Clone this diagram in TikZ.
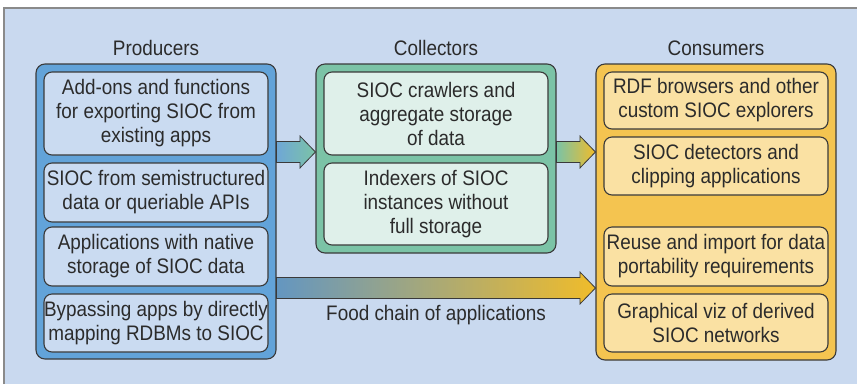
\documentclass[tikz,border=0pt]{standalone}
\usepackage{fontspec}
\setmainfont{Liberation Sans}[FakeStretch=0.9]
\usetikzlibrary{calc}

\definecolor{bgblue}{HTML}{C9D9EF}
\definecolor{framegray}{HTML}{8A8A8A}
\definecolor{linegray}{HTML}{3A3A3A}
\definecolor{textgray}{HTML}{2B2B2B}
\definecolor{prodout}{HTML}{62A3D9}
\definecolor{prodin}{HTML}{CADBF1}
\definecolor{collout}{HTML}{7BC3A6}
\definecolor{collin}{HTML}{DFF0EA}
\definecolor{consout}{HTML}{F4C450}
\definecolor{consin}{HTML}{FAE1A3}
\definecolor{arrowyel}{HTML}{F0BC2A}
\definecolor{arrowblue}{HTML}{6FA7D6}

\tikzset{
  group/.style={draw=linegray, line width=1.1pt, rounded corners=9pt,
    minimum width=240pt, inner sep=0pt},
  item/.style={draw=linegray, line width=1.1pt, rounded corners=8pt,
    minimum width=224pt, inner sep=0pt, align=center, text=textgray},
  title/.style={text=textgray, inner sep=0pt}
}

% block arrow, horizontal: start, tip, colour at start, colour at tip
\newcommand{\blockarrow}[4]{%
  \shadedraw[left color=#3, right color=#4, draw=linegray, line width=0.8pt]
    let \p1=(#1), \p2=(#2) in
    (\x1,\y1+10.5pt) -- (\x2-15.5pt,\y1+10.5pt) -- (\x2-15.5pt,\y1+16pt)
    -- (\x2,\y1) -- (\x2-15.5pt,\y1-16pt) -- (\x2-15.5pt,\y1-10.5pt)
    -- (\x1,\y1-10.5pt) -- cycle;}

\begin{document}
\begin{tikzpicture}[x=1pt, y=-1pt, font=\fontsize{21}{24}\selectfont]
  \useasboundingbox (0,0) rectangle (857,384);

  % Hintergrund
  \fill[bgblue] (4,8) rectangle (857,384);
  \draw[framegray, line width=1.2pt] (4,384) -- (4,8) -- (857,8);

  % Gruppen
  \node[group, fill=prodout, minimum height=295pt] (prod) at (156,211.5) {};
  \node[group, fill=collout, minimum height=189pt] (coll) at (436,158.5) {};
  \node[group, fill=consout, minimum height=296pt] (cons) at (716,212) {};

  \node[title] (prodtitle) at (156,48) {Producers};
  \node[title] (colltitle) at (436,48) {Collectors};
  \node[title] (constitle) at (716,48) {Consumers};

  % Producers
  \node[item, fill=prodin, minimum height=83pt] (addons) at (156,113.5)
    {Add-ons and functions\\for exporting SIOC from\\existing apps};
  \node[item, fill=prodin, minimum height=59pt] (semistruct) at (156,192.5)
    {SIOC from semistructured\\data or queriable APIs};
  \node[item, fill=prodin, minimum height=59pt] (native) at (156,256.5)
    {Applications with native\\storage of SIOC data};
  \node[item, fill=prodin, minimum height=58pt] (bypass) at (156,323)
    {Bypassing apps by directly\\mapping RDBMs to SIOC};

  % Collectors
  \node[item, fill=collin, minimum height=83pt] (crawlers) at (436,113.5)
    {SIOC crawlers and\\aggregate storage\\of data};
  \node[item, fill=collin, minimum height=82pt] (indexers) at (436,204)
    {Indexers of SIOC\\instances without\\full storage};

  % Consumers
  \node[item, fill=consin, minimum height=57pt] (browsers) at (716,100.5)
    {RDF browsers and other\\custom SIOC explorers};
  \node[item, fill=consin, minimum height=58pt] (detectors) at (716,166)
    {SIOC detectors and\\clipping applications};
  \node[item, fill=consin, minimum height=59pt] (reuse) at (716,256.5)
    {Reuse and import for data\\portability requirements};
  \node[item, fill=consin, minimum height=58pt] (graphviz) at (716,323)
    {Graphical viz of derived\\SIOC networks};

  % Pfeile
  \blockarrow{prod.east |- 0,152}{coll.west |- 0,152}{arrowblue}{collout}
  \blockarrow{coll.east |- 0,152}{cons.west |- 0,152}{collout}{arrowyel}
  \blockarrow{prod.east |- 0,288}{cons.west |- 0,288}{arrowblue!90!black}{arrowyel}
  \node[title] (foodchain) at (436,315) {Food chain of applications};
\end{tikzpicture}
\end{document}
